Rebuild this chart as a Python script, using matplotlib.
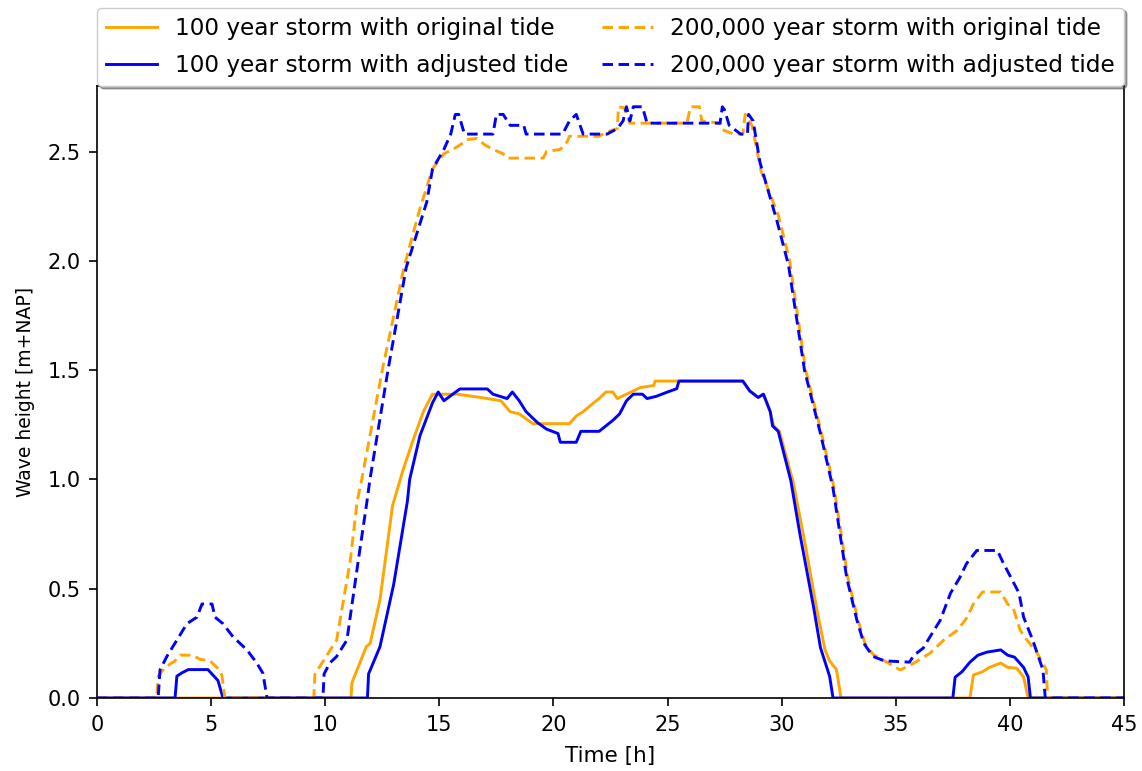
import matplotlib
matplotlib.use("Agg")
import matplotlib.pyplot as plt

# (time [h], wave height [m+NAP])
storm100_orig = [
    (0, 0), (11.13, 0), (11.17, 0.07), (11.4, 0.13), (11.8, 0.235), (11.97, 0.25),
    (12.4, 0.45), (12.95, 0.88), (13.4, 1.04), (13.85, 1.18), (14.3, 1.31), (14.7, 1.39),
    (15.8, 1.39), (16.8, 1.375), (17.7, 1.36), (18.1, 1.31), (18.5, 1.30), (19.1, 1.255),
    (20.7, 1.255), (21.0, 1.29), (21.3, 1.31), (21.7, 1.345), (22.0, 1.37), (22.3, 1.40),
    (22.6, 1.40), (22.8, 1.37), (23.2, 1.39), (23.8, 1.42), (24.4, 1.43), (24.45, 1.45),
    (28.3, 1.45), (28.6, 1.405), (28.97, 1.375), (29.2, 1.39), (29.5, 1.31), (29.65, 1.245),
    (29.9, 1.22), (30.5, 0.99), (31.0, 0.72), (31.55, 0.4), (31.9, 0.22), (32.1, 0.17),
    (32.4, 0.13), (32.6, 0), (38.25, 0), (38.4, 0.105), (38.8, 0.12), (39.1, 0.14),
    (39.6, 0.16), (39.9, 0.14), (40.3, 0.136), (40.6, 0.096), (40.8, 0), (45, 0),
]

storm100_adj = [
    (0, 0), (3.42, 0), (3.5, 0.1), (3.72, 0.115), (4.0, 0.13), (4.86, 0.13), (5.08, 0.105),
    (5.3, 0.08), (5.52, 0), (11.85, 0), (11.9, 0.11), (12.4, 0.235), (13.0, 0.52),
    (13.6, 0.9), (13.7, 1.0), (14.15, 1.2), (14.7, 1.35), (14.95, 1.40), (15.2, 1.36),
    (15.9, 1.414), (17.1, 1.414), (17.35, 1.39), (17.97, 1.37), (18.2, 1.40), (18.5, 1.36),
    (18.8, 1.31), (19.3, 1.26), (19.7, 1.23), (20.2, 1.21), (20.3, 1.17), (21.0, 1.17),
    (21.2, 1.22), (22.0, 1.22), (22.3, 1.245), (22.6, 1.27), (22.9, 1.30), (23.2, 1.36),
    (23.5, 1.39), (23.9, 1.39), (24.1, 1.37), (24.5, 1.38), (25.0, 1.40), (25.4, 1.415),
    (25.5, 1.45), (28.3, 1.45), (28.6, 1.405), (28.97, 1.375), (29.2, 1.39), (29.5, 1.31),
    (29.6, 1.245), (29.85, 1.22), (30.4, 0.995), (30.8, 0.75), (31.4, 0.415), (31.7, 0.23),
    (32.1, 0.10), (32.25, 0), (37.5, 0), (37.6, 0.095), (37.9, 0.12), (38.25, 0.164),
    (38.6, 0.196), (39.0, 0.21), (39.6, 0.22), (39.9, 0.196), (40.2, 0.187), (40.6, 0.14),
    (40.8, 0.096), (40.9, 0), (45, 0),
]

storm200k_orig = [
    (0, 0), (2.62, 0), (2.68, 0.10), (2.98, 0.14), (3.42, 0.17), (3.64, 0.196), (4.2, 0.196),
    (4.5, 0.177), (4.95, 0.17), (5.3, 0.135), (5.47, 0.105), (5.6, 0), (9.5, 0), (9.55, 0.11),
    (9.86, 0.16), (10.1, 0.2), (10.5, 0.265), (11.1, 0.63), (11.4, 0.9), (11.6, 1.0),
    (12.5, 1.5), (13.45, 1.97), (14.15, 2.24), (14.7, 2.42), (15.2, 2.49), (15.6, 2.51),
    (16.05, 2.54), (16.2, 2.555), (16.65, 2.56), (17.0, 2.53), (17.35, 2.51), (17.8, 2.49),
    (17.95, 2.47), (19.55, 2.47), (19.7, 2.50), (20.3, 2.51), (20.6, 2.545), (20.7, 2.57),
    (22.0, 2.57), (22.35, 2.59), (22.8, 2.605), (22.85, 2.705), (23.1, 2.70), (23.35, 2.63),
    (25.85, 2.63), (26.0, 2.705), (26.4, 2.705), (26.5, 2.64), (27.3, 2.63), (27.4, 2.60),
    (27.9, 2.58), (28.3, 2.58), (28.4, 2.67), (28.7, 2.62), (29.1, 2.41), (29.85, 2.21),
    (30.35, 2.0), (31.05, 1.5), (31.75, 1.21), (32.3, 0.96), (32.9, 0.55), (33.35, 0.355),
    (33.65, 0.25), (34.0, 0.2), (34.5, 0.17), (35.0, 0.14), (35.2, 0.128), (35.8, 0.16),
    (36.5, 0.205), (37.1, 0.265), (37.7, 0.31), (38.1, 0.365), (38.4, 0.43), (38.8, 0.485),
    (39.6, 0.485), (39.9, 0.43), (40.15, 0.41), (40.45, 0.31), (40.75, 0.265), (41.2, 0.205),
    (41.6, 0.128), (41.65, 0), (45, 0),
]

storm200k_adj = [
    (0, 0), (2.68, 0), (2.76, 0.128), (3.06, 0.19), (3.5, 0.265), (3.94, 0.34), (4.38, 0.37),
    (4.6, 0.43), (5.04, 0.43), (5.17, 0.37), (5.52, 0.34), (5.96, 0.28), (6.57, 0.22),
    (7.0, 0.16), (7.27, 0.113), (7.45, 0), (9.9, 0), (9.95, 0.11), (10.2, 0.16), (10.5, 0.19),
    (10.95, 0.265), (11.45, 0.63), (11.83, 0.9), (11.96, 1.0), (12.75, 1.5), (13.55, 1.97),
    (14.45, 2.27), (14.7, 2.42), (15.2, 2.51), (15.5, 2.58), (15.7, 2.67), (15.85, 2.67),
    (16.1, 2.58), (17.35, 2.58), (17.5, 2.67), (17.8, 2.67), (18.1, 2.62), (18.7, 2.62),
    (18.8, 2.58), (20.4, 2.58), (20.7, 2.64), (21.0, 2.67), (21.3, 2.58), (22.35, 2.58),
    (22.8, 2.605), (23.05, 2.64), (23.2, 2.705), (23.35, 2.64), (23.5, 2.705), (23.9, 2.705),
    (24.1, 2.63), (27.3, 2.63), (27.4, 2.705), (27.5, 2.69), (27.7, 2.62), (28.2, 2.58),
    (28.5, 2.58), (28.55, 2.67), (28.75, 2.64), (29.05, 2.45), (29.8, 2.18), (30.3, 1.98),
    (31.0, 1.5), (31.7, 1.21), (32.25, 0.96), (32.85, 0.55), (33.3, 0.355), (33.6, 0.25),
    (34.0, 0.19), (34.5, 0.17), (35.6, 0.164), (35.8, 0.196), (36.2, 0.228), (36.5, 0.28),
    (36.95, 0.356), (37.4, 0.48), (37.8, 0.55), (38.1, 0.615), (38.55, 0.675), (39.45, 0.675),
    (39.7, 0.62), (40.0, 0.56), (40.4, 0.48), (40.6, 0.37), (41.0, 0.265), (41.45, 0.128),
    (41.55, 0), (45, 0),
]

labels = [
    "100 year storm with original tide",
    "100 year storm with adjusted tide",
    "200,000 year storm with original tide",
    "200,000 year storm with adjusted tide",
]

ORANGE = "#ffa500"
BLUE = "#0000ff"

W, H = 1142, 771
fig = plt.figure(figsize=(W / 100, H / 100), dpi=100)
ax = fig.add_axes([97 / W, 73 / H, 1027 / W, 612 / H])

series = [
    (storm100_orig, ORANGE, "-"),
    (storm100_adj, BLUE, "-"),
    (storm200k_orig, ORANGE, "--"),
    (storm200k_adj, BLUE, "--"),
]
for (pts, color, ls), label in zip(series, labels):
    t = [p[0] for p in pts]
    h = [p[1] for p in pts]
    line, = ax.plot(t, h, color=color, linestyle=ls, linewidth=2.1, label=label)
    if ls == "--":
        line.set_dashes((3.6, 1.9))

ax.set_xlim(0, 45)
ax.set_ylim(0, 2.8)
ax.set_xticks(range(0, 46, 5))
ax.set_yticks([0.0, 0.5, 1.0, 1.5, 2.0, 2.5])
ax.set_yticklabels(["0.0", "0.5", "1.0", "1.5", "2.0", "2.5"])
ax.tick_params(direction="out", length=5.5, width=1.2, labelsize=15, pad=6)
ax.tick_params(axis="x", pad=7)
for sp in ax.spines.values():
    sp.set_linewidth(1.2)

ax.set_xlabel("Time [h]", fontsize=15.5, labelpad=8)
ax.set_ylabel("Wave height [m+NAP]", fontsize=13.5, labelpad=9)

leg = ax.legend(
    ncol=2, loc="lower left", mode="expand",
    bbox_to_anchor=(0, 1.0, 1.0, 0.1), borderaxespad=0,
    fontsize=16.7, shadow=True, fancybox=True, framealpha=1,
    handlelength=2.2, handletextpad=0.75, labelspacing=0.6, borderpad=0.4,
)
leg.get_frame().set_edgecolor("#cccccc")

fig.savefig("out.png", dpi=100)
